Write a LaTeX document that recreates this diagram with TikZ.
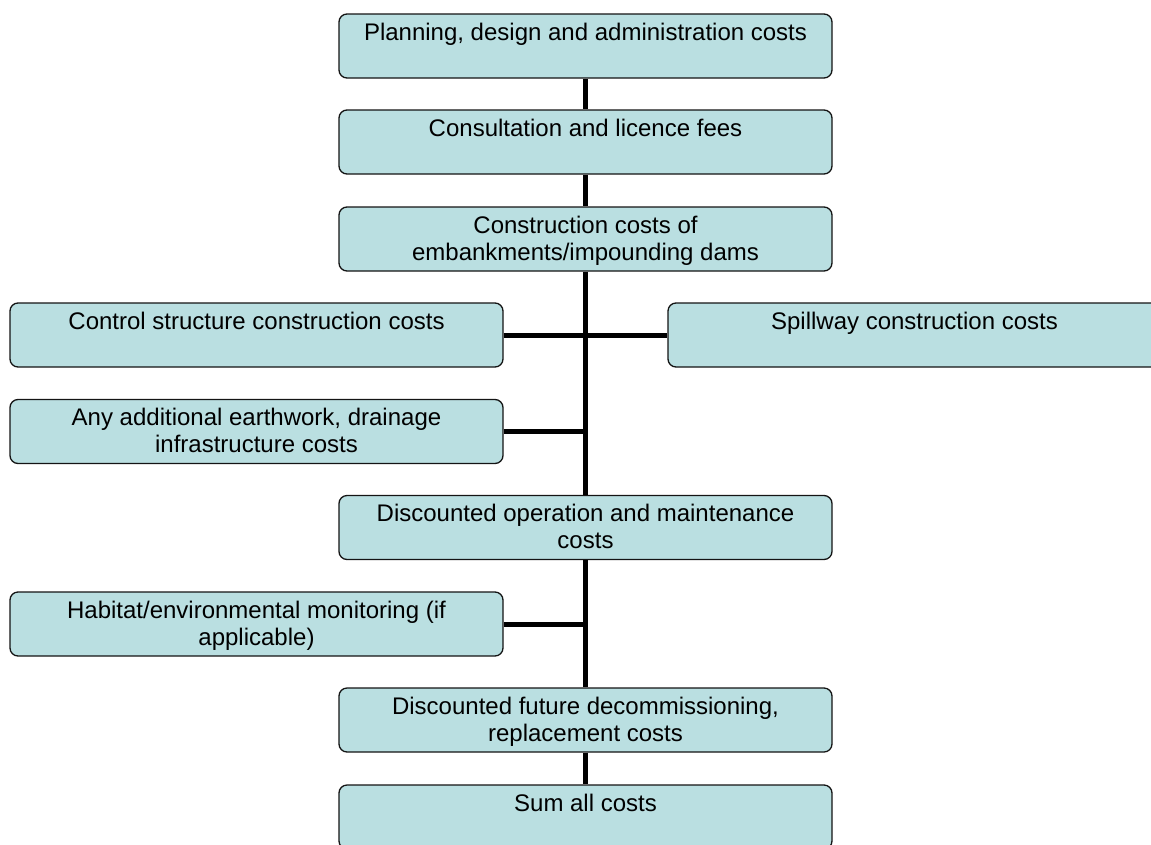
\documentclass[tikz,border=0pt]{standalone}
\usepackage{fontspec}
\setmainfont{Liberation Sans}
\definecolor{boxfill}{RGB}{186,223,225}
\definecolor{boxline}{RGB}{20,20,20}
\begin{document}
\begin{tikzpicture}[x=1pt,y=-1pt,
  box/.style={draw=boxline, line width=1.3pt, fill=boxfill, rounded corners=8pt,
    minimum width=493pt, minimum height=64pt, inner sep=0pt},
  lbl/.style={anchor=north, yshift=-8pt, inner sep=0pt, align=center,
    font=\fontsize{24pt}{27pt}\selectfont},
  link/.style={line width=5pt, black}]
\useasboundingbox (0,0) rectangle (1151,844);
\begin{scope}
\clip (0,0) rectangle (1151,844);
% boxes
\node[box] (b1) at (585.5,46) {};
\node[box] (b2) at (585.5,142) {};
\node[box] (b3) at (585.5,239) {};
\node[box] (ctrl) at (256.5,335) {};
\node[box] (spill) at (914.5,335) {};
\node[box] (earth) at (256.5,431.5) {};
\node[box] (b6) at (585.5,527.5) {};
\node[box] (hab) at (256.5,624) {};
\node[box] (b8) at (585.5,720) {};
\node[box] (b9) at (585.5,817) {};
% connectors
\draw[link] (b1.south) -- (b2.north);
\draw[link] (b2.south) -- (b3.north);
\draw[link] (b3.south) -- (b6.north);
\draw[link] (b6.south) -- (b8.north);
\draw[link] (b8.south) -- (b9.north);
\draw[link] (ctrl.east) -- (spill.west);
\draw[link] (earth.east) -- (earth.east -| b3.south);
\draw[link] (hab.east) -- (hab.east -| b6.south);
% labels
\node[lbl] (t1) at (b1.north) {\strut Planning, design and administration costs};
\node[lbl] (t2) at (b2.north) {\strut Consultation and licence fees};
\node[lbl] (t3) at (b3.north) {\strut Construction costs of\\embankments/impounding dams};
\node[lbl] (tctrl) at (ctrl.north) {\strut Control structure construction costs};
\node[lbl] (tspill) at (spill.north) {\strut Spillway construction costs};
\node[lbl] (tearth) at (earth.north) {\strut Any additional earthwork, drainage\\infrastructure costs};
\node[lbl] (t6) at (b6.north) {\strut Discounted operation and maintenance\\costs};
\node[lbl] (thab) at (hab.north) {\strut Habitat/environmental monitoring (if\\applicable)};
\node[lbl] (t8) at (b8.north) {\strut Discounted future decommissioning,\\replacement costs};
\node[lbl] (t9) at (b9.north) {\strut Sum all costs};
\end{scope}
\end{tikzpicture}
\end{document}
